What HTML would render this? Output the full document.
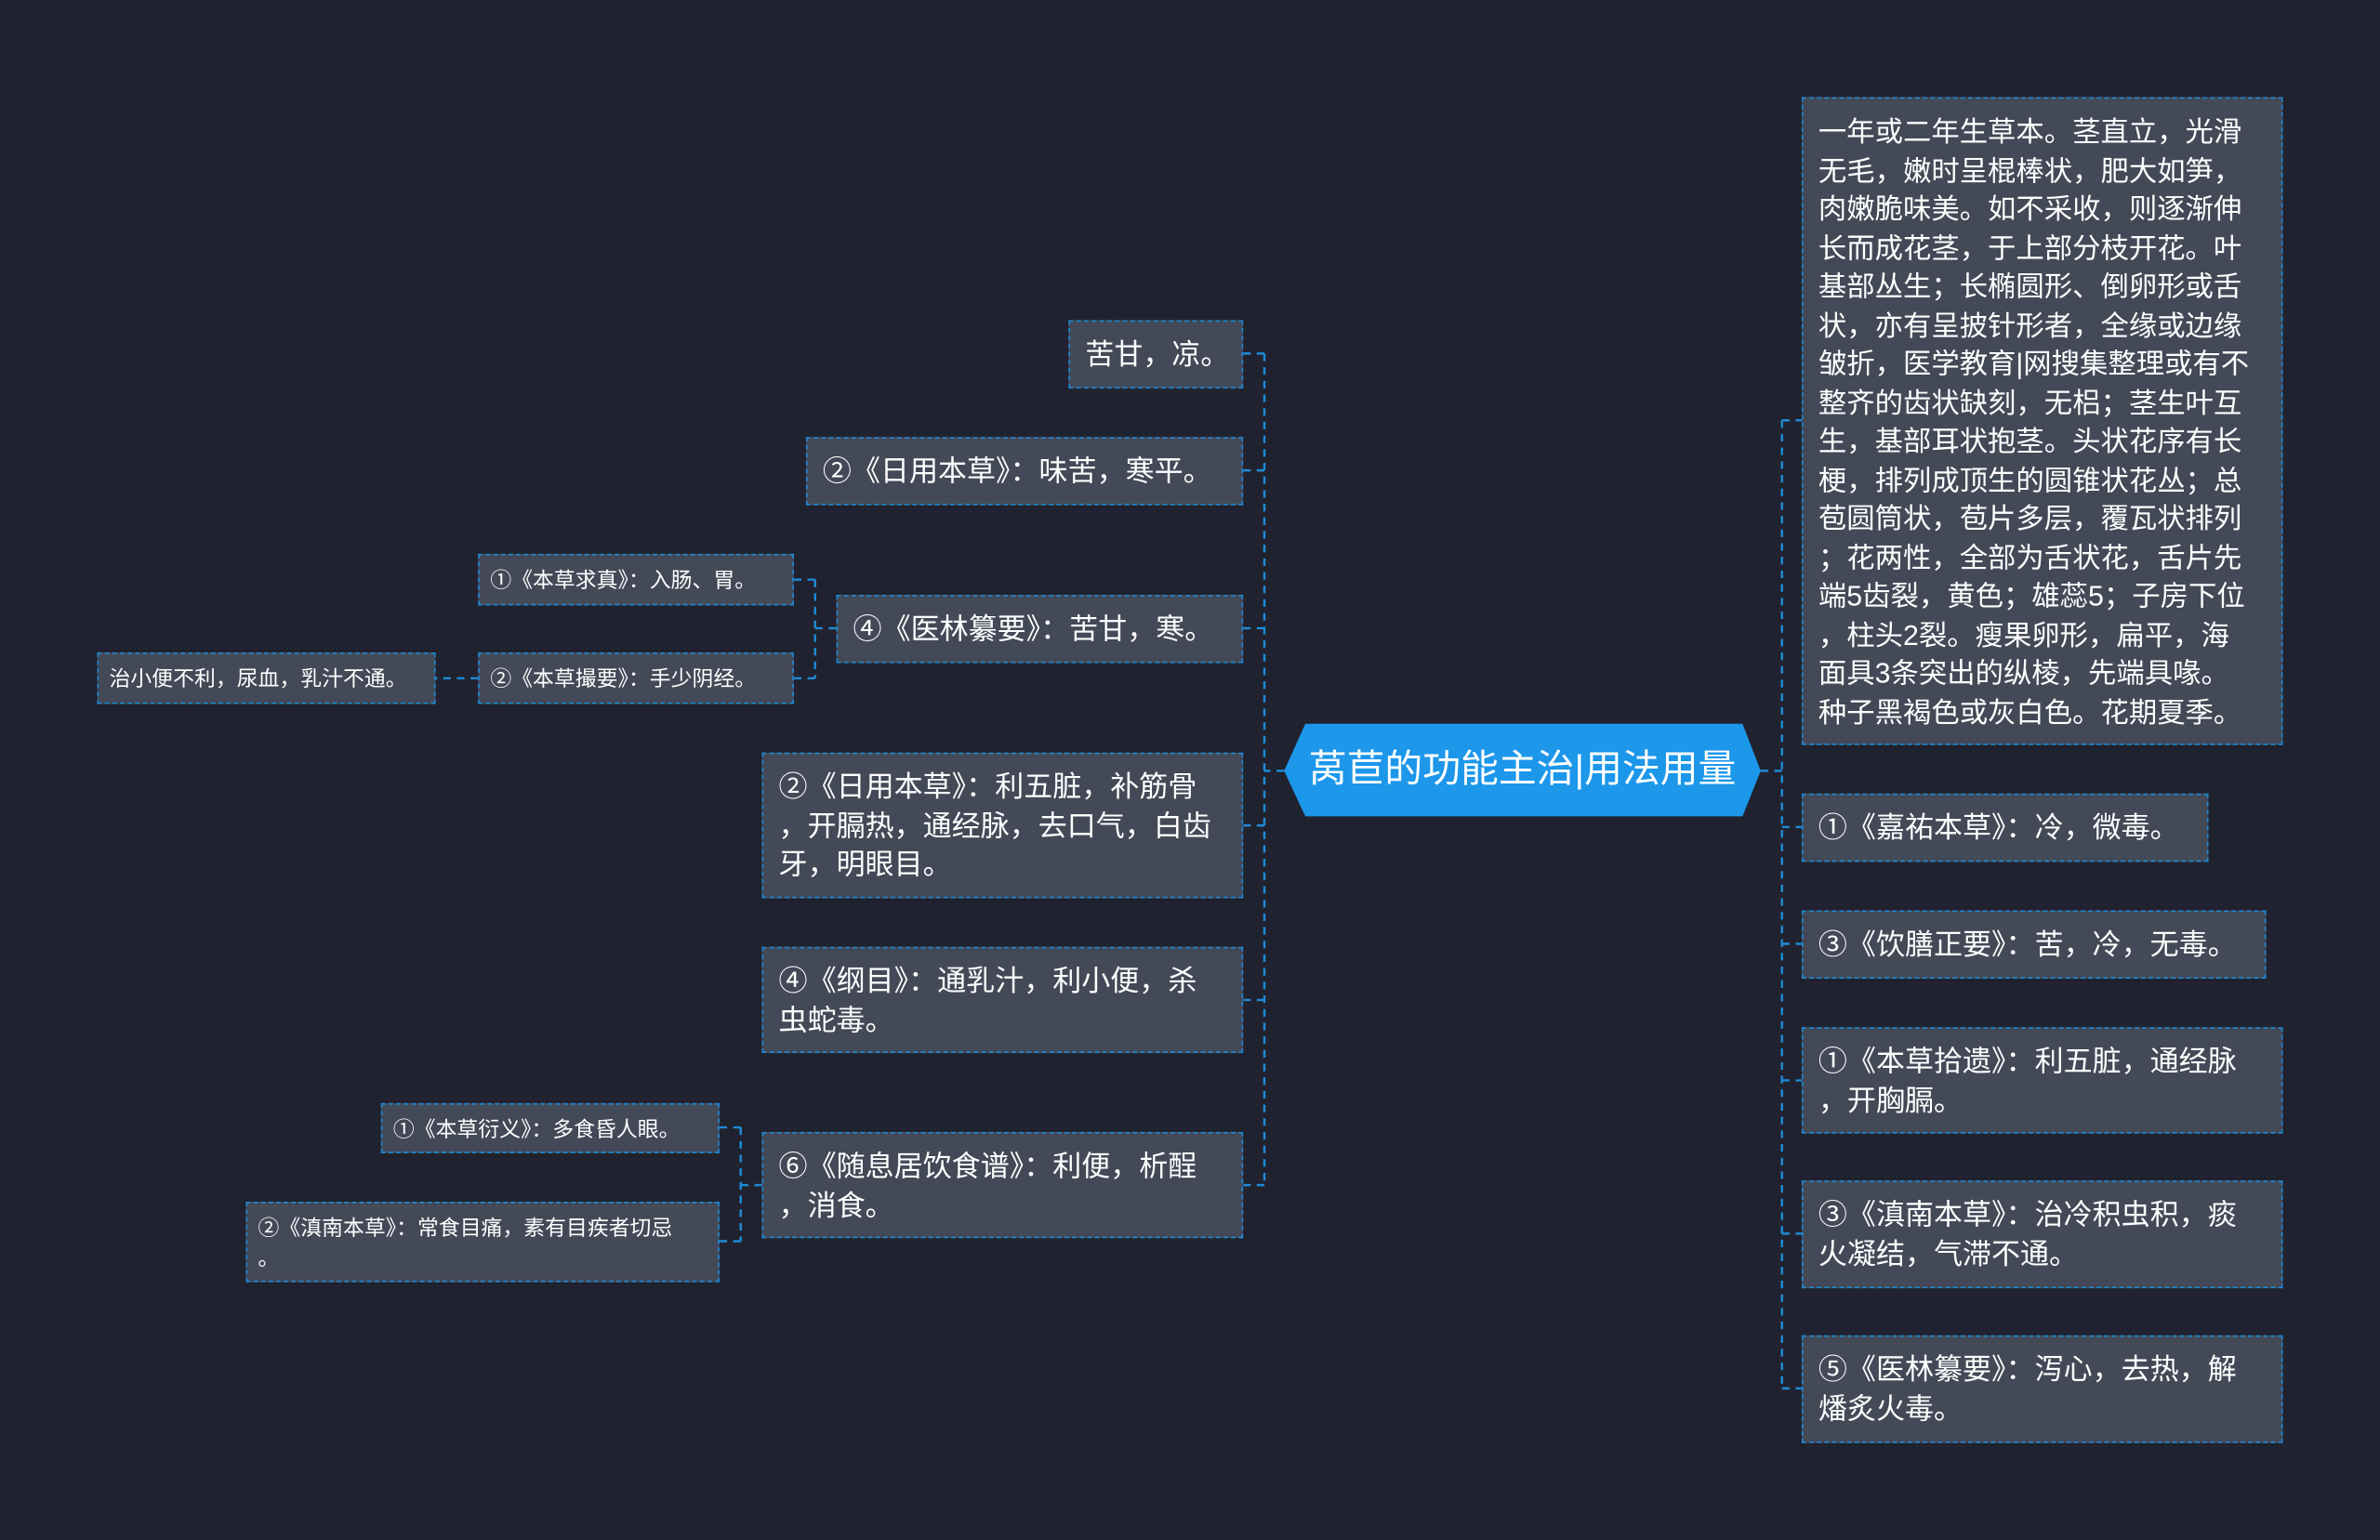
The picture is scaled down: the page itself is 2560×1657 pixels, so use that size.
<!DOCTYPE html>
<html><head><meta charset="utf-8"><style>
html,body{margin:0;padding:0;background:#20232f;width:2560px;height:1657px;overflow:hidden}
#w{position:absolute;left:0;top:0;width:1568px;height:1015px;transform:scale(1.63265);transform-origin:0 0;font-family:"Liberation Sans","Noto Sans CJK SC",sans-serif}
.n{position:absolute;box-sizing:border-box;background:#434957;border:1.3px dashed #1e8ad6;color:#fff;font-size:19px;line-height:25.5px;padding:10px 10px;white-space:nowrap}
.s{font-size:14px;line-height:20px;padding:6px 7px}
svg{position:absolute;left:0;top:0}
</style></head><body><div id="w">
<svg width="1568" height="1015"><g stroke="#1e8ad6" stroke-width="1.5" stroke-dasharray="5,4" fill="none">
<path d="M846 508H833M833 233V781M833 233H819M833 310H819M833 414H819M833 544H819M833 659H819M833 781H819"/>
<path d="M1160 508H1174M1174 277V915M1174 277H1187M1174 545H1187M1174 622H1187M1174 712H1187M1174 813H1187M1174 915H1187"/>
<path d="M551 414H537M537 382V447M537 382H523M537 447H523M315 447H287"/>
<path d="M502 781H488M488 743V818M488 743H474M488 818H474"/>
</g></svg>
<svg width="1568" height="1015"><polygon points="860,477 1148,477 1160,508 1148,538 860,538 846,508" fill="#1c97ea"/></svg>
<div style="position:absolute;left:846px;top:477px;width:314px;height:61px;line-height:61px;text-align:center;color:#fff;font-size:25px">莴苣的功能主治|用法用量</div>

<div class="n" style="left:1187px;top:64px;width:317px;height:427px;font-size:18.6px;padding:9px 10px">一年或二年生草本。茎直立，光滑<br>无毛，嫩时呈棍棒状，肥大如笋，<br>肉嫩脆味美。如不采收，则逐渐伸<br>长而成花茎，于上部分枝开花。叶<br>基部丛生；长椭圆形、倒卵形或舌<br>状，亦有呈披针形者，全缘或边缘<br>皱折，医学教育|网搜集整理或有不<br>整齐的齿状缺刻，无梠；茎生叶互<br>生，基部耳状抱茎。头状花序有长<br>梗，排列成顶生的圆锥状花丛；总<br>苞圆筒状，苞片多层，覆瓦状排列<br>；花两性，全部为舌状花，舌片先<br>端5齿裂，黄色；雄蕊5；子房下位<br>，柱头2裂。瘦果卵形，扁平，海<br>面具3条突出的纵棱，先端具喙。<br>种子黑褐色或灰白色。花期夏季。</div>
<div class="n" style="left:1187px;top:523px;width:268px;height:45px">①《嘉祐本草》：冷，微毒。</div>
<div class="n" style="left:1187px;top:600px;width:306px;height:45px">③《饮膳正要》：苦，冷，无毒。</div>
<div class="n" style="left:1187px;top:677px;width:317px;height:70px">①《本草拾遗》：利五脏，通经脉<br>，开胸膈。</div>
<div class="n" style="left:1187px;top:778px;width:317px;height:71px">③《滇南本草》：治冷积虫积，痰<br>火凝结，气滞不通。</div>
<div class="n" style="left:1187px;top:880px;width:317px;height:71px">⑤《医林纂要》：泻心，去热，解<br>燔炙火毒。</div>

<div class="n" style="left:704px;top:211px;width:115px;height:45px">苦甘，凉。</div>
<div class="n" style="left:531px;top:288px;width:288px;height:45px">②《日用本草》：味苦，寒平。</div>
<div class="n" style="left:551px;top:392px;width:268px;height:45px">④《医林纂要》：苦甘，寒。</div>
<div class="n" style="left:502px;top:496px;width:317px;height:96px">②《日用本草》：利五脏，补筋骨<br>，开膈热，通经脉，去口气，白齿<br>牙，明眼目。</div>
<div class="n" style="left:502px;top:624px;width:317px;height:70px">④《纲目》：通乳汁，利小便，杀<br>虫蛇毒。</div>
<div class="n" style="left:502px;top:746px;width:317px;height:70px">⑥《随息居饮食谱》：利便，析酲<br>，消食。</div>

<div class="n s" style="left:315px;top:365px;width:208px;height:34px">①《本草求真》：入肠、胃。</div>
<div class="n s" style="left:315px;top:430px;width:208px;height:34px">②《本草撮要》：手少阴经。</div>
<div class="n s" style="left:64px;top:430px;width:223px;height:34px">治小便不利，尿血，乳汁不通。</div>
<div class="n s" style="left:251px;top:727px;width:223px;height:33px">①《本草衍义》：多食昏人眼。</div>
<div class="n s" style="left:162px;top:792px;width:312px;height:53px;padding-top:6px">②《滇南本草》：常食目痛，素有目疾者切忌<br>。</div>
</div></body></html>
